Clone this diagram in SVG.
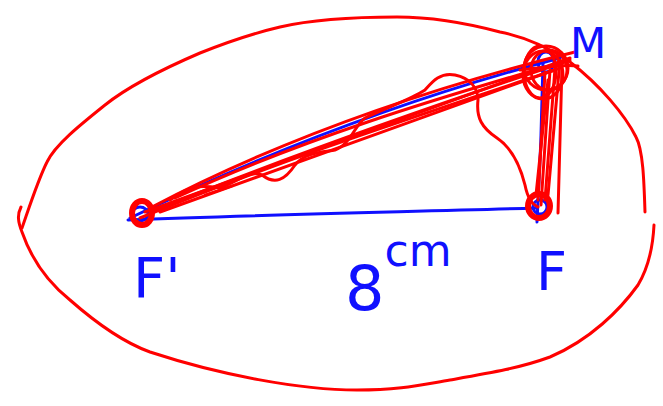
<svg xmlns="http://www.w3.org/2000/svg" width="663" height="406" viewBox="0 0 663 406">
<style>
.r{fill:none;stroke:#ff0000;stroke-width:3;stroke-linecap:round;stroke-linejoin:round}
.rk{fill:none;stroke:#ff0000;stroke-width:6}
.rt{fill:none;stroke:#ff0000;stroke-width:2.5;stroke-linecap:round}
.b{fill:none;stroke:#1010ff;stroke-width:3;stroke-linecap:round;stroke-linejoin:round}
.lbl{fill:#1010ff;font-family:"DejaVu Sans","Liberation Sans",sans-serif;font-weight:normal}
</style>
<rect width="663" height="406" fill="#ffffff"/>
<g id="outline">
<path class="r" d="M645,212 C644,180 643,150 636,137 C625,115 600,85 570,62 C545,45 520,36 500,32 C470,24 430,17 397,17 C350,17 310,20 280,27 C250,34 220,45 200,53 C165,68 130,85 105,105 C80,125 55,145 47,162 C38,180 30,205 22,228"/>
<path class="r" d="M21,207 C17,215 18,222 22,232 C30,255 45,280 70,300 C95,322 125,343 150,352 C220,375 300,390 357,390 C400,390 420,385 450,380 C490,373 520,368 550,357 C590,340 620,310 638,285 C650,265 653,245 654,225"/>
</g>
<g id="triangle">
<path class="b" d="M128,220 C250,215 400,212 537,208"/>
<path class="b" d="M130,218 C250,160 400,100 560,58"/>
<path class="b" d="M543,63 C542,120 540,170 537,222"/>
<ellipse class="b" cx="546" cy="62" rx="8" ry="10"/>
<ellipse class="b" cx="140" cy="214" rx="8" ry="7"/>
<ellipse class="b" cx="540" cy="207" rx="7" ry="7"/>
</g>
<g id="redlines">
<path class="r" d="M150,208 C260,150 400,95 575,52"/>
<path class="r" d="M145,212 L570,58"/>
<path class="r" d="M155,210 C280,160 420,110 565,62"/>
<path class="r" d="M160,212 L560,68"/>
<path class="r" d="M175,198 C300,140 430,100 570,60"/>
<path class="r" d="M140,218 C280,160 420,115 555,70"/>
<path class="rt" d="M205,195 L232,186"/>
<path class="r" d="M170,200 C190,185 200,185 220,188 C240,180 250,170 262,175 C275,185 285,180 295,165 C305,152 325,152 335,150 C350,145 355,125 365,118 C385,108 410,100 425,90 C432,82 440,72 455,75 C470,78 478,88 478,100 C476,118 482,128 497,138 C512,148 520,165 525,185 C528,200 533,205 538,207"/>
<path class="r" d="M545,72 L538,200"/>
<path class="r" d="M550,70 L541,205"/>
<path class="r" d="M555,68 L545,200"/>
<path class="r" d="M560,60 L548,195"/>
<path class="r" d="M562,65 L558,213"/>
<path class="r" d="M548,80 L536,195"/>
</g>
<g id="points">
<ellipse class="rk" cx="142" cy="213" rx="10" ry="12"/>
<ellipse class="rk" cx="539" cy="206" rx="11" ry="12"/>
<ellipse class="r" cx="546" cy="68" rx="22" ry="22"/>
<ellipse class="r" cx="543" cy="75" rx="20" ry="24"/>
<ellipse class="r" cx="549" cy="70" rx="18" ry="20"/>
<ellipse class="r" cx="540" cy="72" rx="16" ry="26"/>
<path class="r" d="M520,70 C540,68 560,64 578,66"/>
</g>
<g id="labels">
<text class="lbl" x="133" y="297" font-size="56">F'</text>
<text class="lbl" x="345" y="310"><tspan font-size="62">8</tspan><tspan font-size="44" dy="-44">cm</tspan></text>
<text class="lbl" x="536" y="290" font-size="54">F</text>
<text class="lbl" x="570" y="58" font-size="42">M</text>
</g>
</svg>
